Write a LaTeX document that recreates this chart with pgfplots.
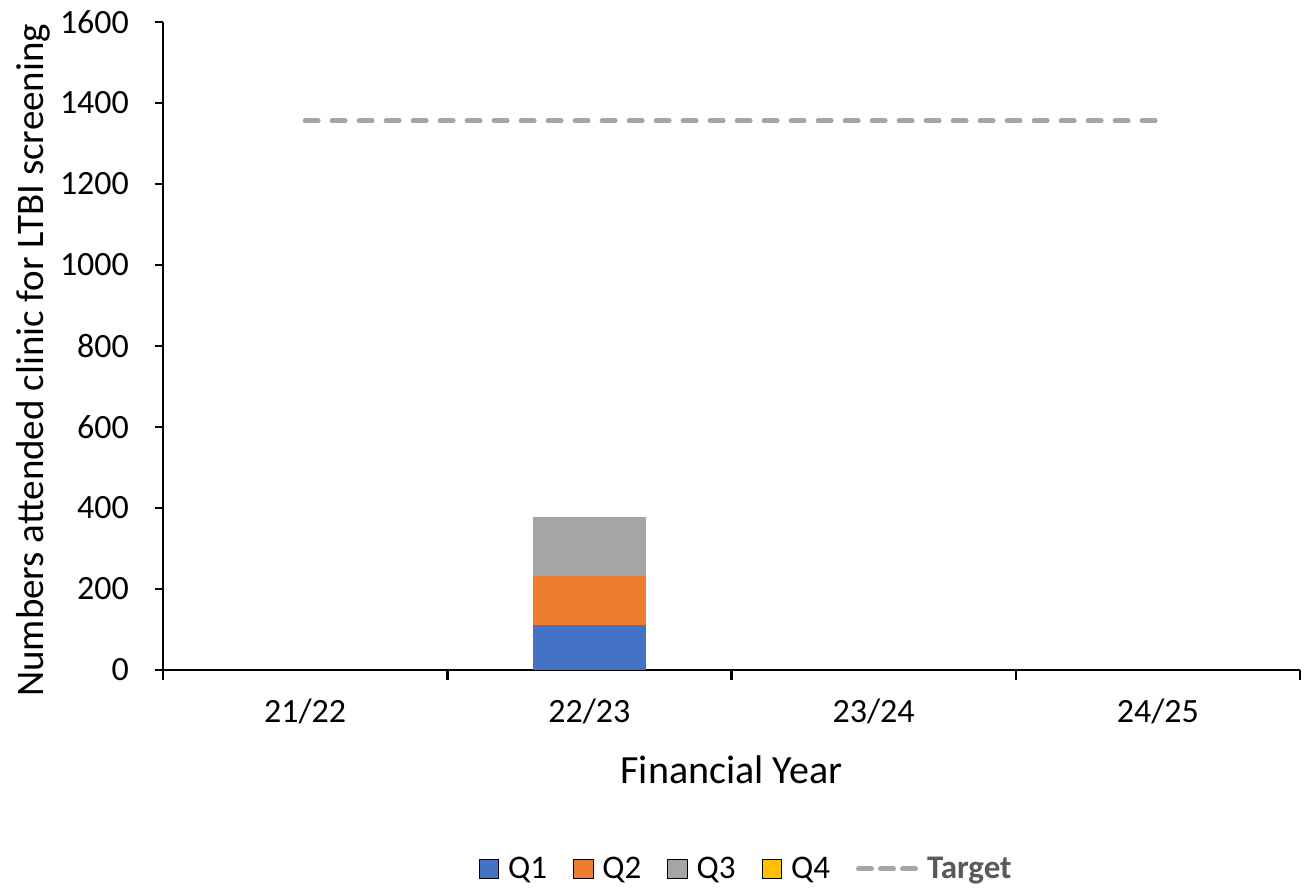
\documentclass[border=0pt]{standalone}
\usepackage{fontspec}
\setmainfont{Carlito}
\usepackage{pgfplots}
\pgfplotsset{compat=1.18}
\definecolor{cqa}{HTML}{4472C4}
\definecolor{cqb}{HTML}{ED7D31}
\definecolor{cqc}{HTML}{A5A5A5}
\definecolor{cqd}{HTML}{FFC000}
\definecolor{txtgray}{HTML}{595959}
\pgfplotsset{
  common/.style={
    width=568.5pt, height=324pt, scale only axis,
    xmin=-0.5, xmax=3.5, ymin=0, ymax=1600,
  },
  sqr/.style={legend image code/.code={\fill[##1] (0pt,-4.9pt) rectangle (9.8pt,4.9pt);}},
  dashimg/.style={legend image code/.code={\draw[##1, dash pattern=on 6.5pt off 4.5pt] (1.25pt,0pt) -- (29.75pt,0pt);}},
}
\begin{document}
\begin{tikzpicture}
\path (-81.5pt,-109pt) rectangle (570.5pt,335pt);
\begin{axis}[
  common,
  axis x line*=bottom, axis y line*=left,
  axis line style={line width=1.25pt, -},
  every tick/.style={black, line width=1.25pt},
  tick align=outside,
  xtick={0,1,2,3}, xticklabels={21/22,22/23,23/24,24/25},
  major x tick style={draw=none},
  minor xtick={-0.5,0.5,1.5,2.5,3.5},
  minor tick length=5pt,
  major tick length=4pt,
  ytick={0,200,...,1600},
  ticklabel style={font=\fontsize{17}{20}\selectfont},
  /pgf/number format/assume math mode=true,
  /pgf/number format/1000 sep={},
  xticklabel style={yshift=-7pt},
  yticklabel style={xshift=-9.5pt},
  xlabel={Financial Year},
  ylabel={Numbers attended clinic for LTBI screening},
  xlabel style={font=\fontsize{20}{24}\selectfont, at={(axis description cs:0.5,-0.154)}, anchor=center},
  ylabel style={font=\fontsize{19.5}{23}\selectfont, at={(axis description cs:-0.1143,0.478)}, anchor=center},
  ybar stacked, bar width=0.4,
]
\addplot[fill=cqa, draw=none] coordinates {(1,111)};
\addplot[fill=cqb, draw=none] coordinates {(1,122)};
\addplot[fill=cqc, draw=none] coordinates {(1,145)};
\end{axis}
\begin{axis}[
  common, hide axis,
  legend columns=-1,
  legend style={at={(0.512,-0.307)}, anchor=center, draw=none,
    font=\fontsize{16.5}{19}\selectfont,
    /tikz/every odd column/.append style={column sep=4.5pt},
    /tikz/every even column/.append style={column sep=13pt},
    nodes={inner sep=0pt}},
]
\addlegendimage{sqr, fill=cqa}
\addlegendentry{Q1}
\addlegendimage{sqr, fill=cqb}
\addlegendentry{Q2}
\addlegendimage{sqr, fill=cqc}
\addlegendentry{Q3}
\addlegendimage{sqr, fill=cqd}
\addlegendentry{Q4}
\addplot[dashimg, color=cqc, line width=2.5pt, line cap=round, dash pattern=on 6.5pt off 7pt]
  coordinates {(0,1356) (1,1356) (2,1356) (3,1356)};
\addlegendentry{\textcolor{txtgray}{\textbf{Target}}}
\end{axis}
\end{tikzpicture}
\end{document}
